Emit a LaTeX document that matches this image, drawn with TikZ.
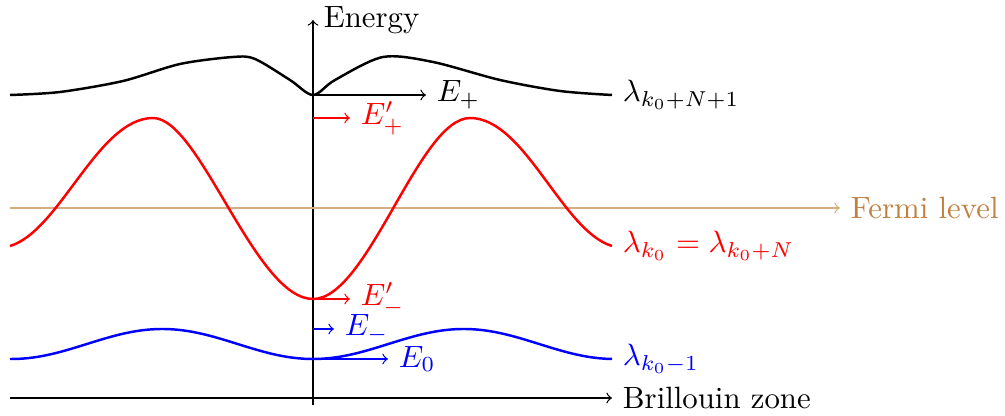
\documentclass[tikz,border=0pt]{standalone}
\begin{document}
\begin{tikzpicture}[x=0.3247pt,y=-0.3247pt,
  band/.style={thick},
  lbl/.style={right},
  lvl/.style={->}]
\useasboundingbox (0,0) rectangle (1005,416);
% axes
\coordinate (xs) at (10,398);
\coordinate (xe) at (612,398);
\coordinate (ys) at (313,405);
\coordinate (ye) at (313,20);
\draw[->] (xs) -- (xe);
\draw[->] (ys) -- (ye);
\node[lbl] (xl) at (xe) {Brillouin zone};
\node[lbl] (yl) at (ye) {Energy};
% Fermi level
\coordinate (fs) at (10,208);
\coordinate (fe) at (840,208);
\draw[->,brown!65] (fs) -- (fe);
\node[lbl,text=brown] (fl) at (fe) {Fermi level};
% black band
\draw[band] plot[smooth] coordinates {(10,95) (60,92) (123,81) (180,64) (233,57) (255,59) (290,80) (313,95) (335,80) (383,57) (433,62) (500,80) (560,91) (612,95)};
\coordinate (be) at (612,95);
\node[lbl] (bl) at (be) {$\lambda_{k_0+N+1}$};
% red band
\coordinate (rs) at (10,246);
\coordinate (r1) at (153,118);
\coordinate (r2) at (313,299);
\coordinate (r3) at (470,118);
\coordinate (re) at (612,246);
\draw[band,red] (rs) .. controls (60,231) and (98,118) .. (r1)
  .. controls (200,118) and (255,299) .. (r2)
  .. controls (368,299) and (419,118) .. (r3)
  .. controls (525,118) and (562,231) .. (re);
\node[lbl,text=red] (rl) at (re) {$\lambda_{k_0}=\lambda_{k_0+N}$};
% blue band
\draw[band,blue] plot[domain=10:612,samples=120,smooth] (\x,{344+15*cos(1.194*(\x-313))});
\coordinate (ue) at (612,359);
\node[lbl,text=blue] (ul) at (ue) {$\lambda_{k_0-1}$};
% energy markers
\coordinate (ep0) at (313,95);  \coordinate (ep1) at (426,95);
\coordinate (eq0) at (313,118); \coordinate (eq1) at (350,118);
\coordinate (em0) at (313,299); \coordinate (em1) at (350,299);
\coordinate (en0) at (313,329); \coordinate (en1) at (334,329);
\coordinate (ez0) at (313,359); \coordinate (ez1) at (388,359);
\draw[lvl] (ep0) -- (ep1);
\node[lbl] (epl) at (ep1) {$E_+$};
\draw[lvl,red] (eq0) -- (eq1);
\node[lbl,text=red] (eql) at (eq1) {$E'_+$};
\draw[lvl,red] (em0) -- (em1);
\node[lbl,text=red] (eml) at (em1) {$E'_-$};
\draw[lvl,blue] (en0) -- (en1);
\node[lbl,text=blue] (enl) at (en1) {$E_-$};
\draw[lvl,blue] (ez0) -- (ez1);
\node[lbl,text=blue] (ezl) at (ez1) {$E_0$};
\end{tikzpicture}
\end{document}
